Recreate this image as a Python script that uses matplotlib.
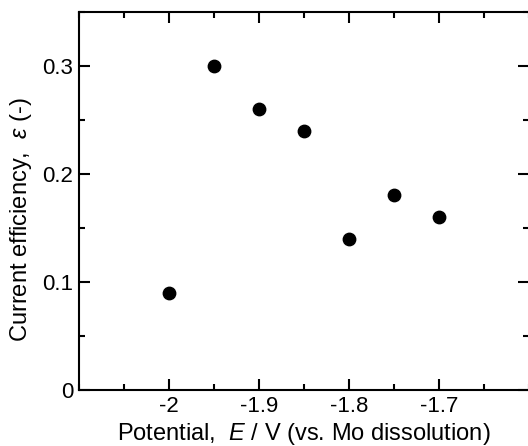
import matplotlib
matplotlib.use("Agg")
from matplotlib import pyplot as plt
from matplotlib.ticker import MultipleLocator

# data
potential = [-2.0, -1.95, -1.9, -1.85, -1.8, -1.75, -1.7]
efficiency = [0.09, 0.30, 0.26, 0.24, 0.14, 0.18, 0.16]

plt.rcParams["font.family"] = ["Liberation Sans", "DejaVu Sans"]
plt.rcParams["mathtext.fontset"] = "custom"
plt.rcParams["mathtext.it"] = "Liberation Sans:italic"
plt.rcParams["mathtext.cal"] = "Liberation Serif:italic"
plt.rcParams["xtick.labelsize"] = 16
plt.rcParams["ytick.labelsize"] = 16

fig = plt.figure(figsize=(5.28, 4.46), dpi=100)
ax = fig.add_axes([0.1496, 0.1256, 0.8524, 0.8482])

ax.scatter(potential, efficiency, s=80, color="black", zorder=3)

ax.set_xlim(-2.1, -1.6)
ax.set_ylim(0, 0.35)
ax.xaxis.set_minor_locator(MultipleLocator(0.05))
ax.yaxis.set_minor_locator(MultipleLocator(0.05))
ax.set_xticks([-2.0, -1.9, -1.8, -1.7])
ax.set_xticklabels(["-2", "-1.9", "-1.8", "-1.7"])
ax.set_yticks([0, 0.1, 0.2, 0.3])
ax.set_yticklabels(["0", "0.1", "0.2", "0.3"])

ax.tick_params(which="both", direction="in", top=True, right=True, width=1.5)
ax.tick_params(which="major", length=8, pad=4)
ax.tick_params(which="minor", length=4)
for sp in ax.spines.values():
    sp.set_linewidth(1.5)

ax.set_xlabel("Potential,  $E$ / V (vs. Mo dissolution)", fontsize=17, labelpad=3)
ax.set_ylabel("Current efficiency,  $\\varepsilon$ (-)", fontsize=17, labelpad=6, y=0.45)

plt.savefig("out.png", dpi=100)
